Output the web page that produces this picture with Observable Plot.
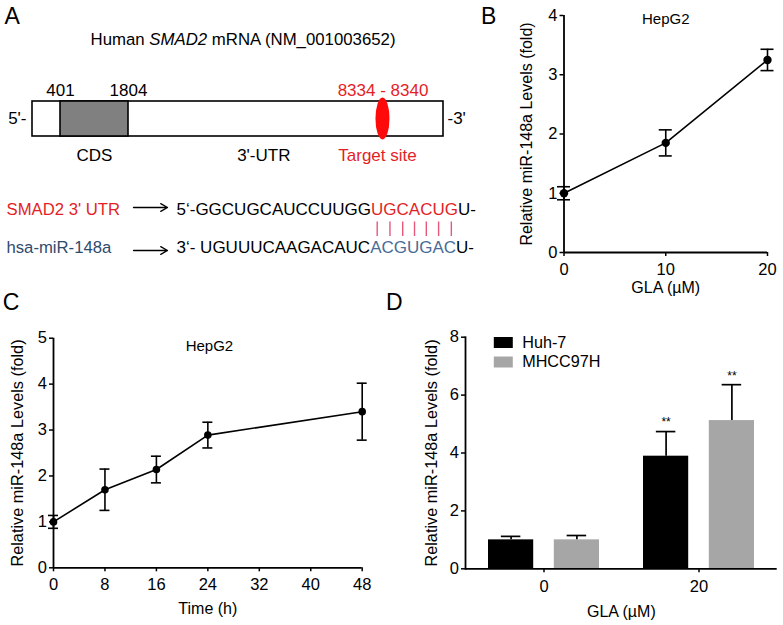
<!DOCTYPE html>
<html><head><meta charset="utf-8">
<script src="https://cdn.jsdelivr.net/npm/d3@7"></script>
<script src="https://cdn.jsdelivr.net/npm/@observablehq/plot@0.6"></script>
<style>
body{margin:0;background:#fff;}
#fig{position:relative;width:783px;height:625px;overflow:hidden;background:#fff;}
#fig > svg{position:absolute;}
</style></head><body><div id="fig"></div>
<script>
// ---------------- DATA ----------------
// Panel A
const titleParts = ["Human ", "SMAD2", " mRNA (NM_001003652)"];
const titleItalic = [false, true, false];
const cds = [401, 1804];
const targetSite = [8334, 8340];
const mrnaEnd = 10000;               // schematic end of transcript
const regionLabels = ["CDS", "3'-UTR", "Target site"];
const alignRows = ["SMAD2 3' UTR", "hsa-miR-148a"];
const alignSeq = [
  ["5\u2018-GGCUGCAUCCUUGG", "UGCACUG", "U-"],
  ["3\u2018- UGUUUCAAGACAUC", "ACGUGAC", "U-"]
];
// Panel B
const glaDose = [0, 10, 20];
const glaMean = [1.0, 1.85, 3.25];
const glaErr  = [0.11, 0.22, 0.18];
const bTicksY = [0, 1, 2, 3, 4];
// Panel C
const timeH = [0, 8, 16, 24, 48];
const timeMean = [1.0, 1.70, 2.14, 2.89, 3.40];
const timeErr  = [0.14, 0.45, 0.29, 0.28, 0.62];
const cTicksX = [0, 8, 16, 24, 32, 40, 48];
const cTicksY = [0, 1, 2, 3, 4, 5];
// Panel D
const cellLines = ["Huh-7", "MHCC97H"];
const doseGroups = ["0", "20"];
const huh7Mean = [1.0, 3.89];
const huh7Err  = [0.12, 0.85];
const mhccMean = [1.0, 5.12];
const mhccErr  = [0.15, 1.24];
const signif   = ["", "**"];
const dTicksY  = [0, 2, 4, 6, 8];

// ---------------- STYLE ----------------
const FONT = '"Liberation Sans", Arial, sans-serif';
const RED = "#e41e26", BLUE = "#2f4b6c", BLUE2 = "#476c95", PINK = "#e4587a";
const GRAY = "#a6a6a6", CDSGRAY = "#808080";
const baseStyle = {fontFamily: FONT, fontSize: "16px", background: "transparent", color: "black", overflow: "visible"};
const fig = document.getElementById("fig");
function place(svg, left, top) { svg.style.left = left + "px"; svg.style.top = top + "px"; fig.appendChild(svg); }
const ctx = document.createElement("canvas").getContext("2d");
function tw(s, size, italic) { ctx.font = `${italic ? "italic " : ""}${size}px "Liberation Sans"`; return ctx.measureText(s).width; }
const letter = (t, dx, dy) => Plot.text([t], {text: d => d, frameAnchor: "top-left", dx, dy, textAnchor: "start", lineAnchor: "top", fontSize: 23});
const fmt = d => String(d);

// ---------------- PANEL A: gene diagram ----------------
{
  const TS = 16.8;
  const widths = titleParts.map((p, i) => tw(p, TS, titleItalic[i]));
  const total = d3.sum(widths);
  let x0 = 243 - total / 2;
  const titleMarks = titleParts.map((p, i) => {
    const m = Plot.text([p], {text: d => d, frameAnchor: "top-left", dx: x0, dy: 33, textAnchor: "start", lineAnchor: "top",
      fontSize: TS, fontStyle: titleItalic[i] ? "italic" : "normal"});
    x0 += widths[i];
    return m;
  });
  // schematic (non-linear) placement of nucleotide positions along the box
  const ntToPx = d3.scaleLinear()
    .domain([1, cds[0], cds[1], targetSite[0], targetSite[1], mrnaEnd])
    .range([32, 60, 128, 375.5, 389.5, 443]);
  const svg = Plot.plot({
    width: 460, height: 170, margin: 0, style: baseStyle,
    x: {type: "linear", transform: ntToPx, domain: [0, 460], range: [0, 460], axis: null},
    y: {domain: [0, 1], range: [136, 101], axis: null},
    marks: [
      letter("A", 4, 7),
      ...titleMarks,
      Plot.rect([[1, mrnaEnd]], {x1: d => d[0], x2: d => d[1], y1: 0, y2: 1, fill: "white", stroke: "black", strokeWidth: 1.6}),
      Plot.rect([cds], {x1: d => d[0], x2: d => d[1], y1: 0, y2: 1, fill: CDSGRAY, stroke: "black", strokeWidth: 1.6}),
      Plot.rect([targetSite], {x1: d => d[0], x2: d => d[1], y1: -0.1, y2: 1.1, rx: 7, ry: 21, fill: "#ff0a0a"}),
      Plot.text(cds, {x: d => d, y: 1, text: d => String(d), dy: -18, lineAnchor: "top", fontSize: 17}),
      Plot.text([targetSite], {x: d => (d[0] + d[1]) / 2, y: 1, text: d => `${d[0]} - ${d[1]}`, dy: -18, lineAnchor: "top", fontSize: 17, fill: RED}),
      Plot.text([regionLabels[0]], {x: (cds[0] + cds[1]) / 2, y: 0, text: d => d, dy: 12, lineAnchor: "top", fontSize: 17}),
      Plot.text([regionLabels[1]], {x: (cds[1] + mrnaEnd) / 2, y: 0, text: d => d, dx: -20, dy: 12, lineAnchor: "top", fontSize: 17}),
      Plot.text([regionLabels[2]], {x: (targetSite[0] + targetSite[1]) / 2, y: 0, text: d => d, dx: -5.5, dy: 12, lineAnchor: "top", fontSize: 17, fill: RED}),
      Plot.text(["5'-"], {x: 1, y: 0.5, text: d => d, textAnchor: "end", dx: -6, fontSize: 17}),
      Plot.text(["-3'"], {x: mrnaEnd, y: 0.5, text: d => d, textAnchor: "start", dx: 4, fontSize: 17})
    ]
  });
  place(svg, 0, 0);
}

// ---------------- PANEL A: alignment ----------------
{
  const SF = 17, LF = 16.7, seqX0 = 176;
  const colors = [["black", RED, "black"], ["black", BLUE2, "black"]];
  const segs = [];
  const pairs = [];
  alignSeq.forEach((parts, r) => {
    let x = seqX0;
    parts.forEach((p, j) => {
      segs.push({row: alignRows[r], text: p, x, color: colors[r][j]});
      if (r === 0 && j === 1) {
        for (let k = 0; k < p.length; k++) pairs.push(x + tw(p.slice(0, k), SF) + tw(p[k], SF) / 2);
      }
      x += tw(p, SF);
    });
  });
  const svg = Plot.plot({
    width: 500, height: 100, margin: 0, style: baseStyle,
    x: {type: "identity", axis: null},
    y: {type: "point", domain: alignRows, range: [38.5, 76.5], padding: 0, axis: null},
    color: {type: "identity"},
    marks: [
      Plot.text(alignRows, {y: d => d, text: d => d, frameAnchor: "left", dx: 6, textAnchor: "start", lineAnchor: "middle", fontSize: LF,
        fill: (d, i) => i === 0 ? RED : BLUE}),
      Plot.arrow([alignRows[0]], {x1: () => 133, x2: () => 167, y1: d => d, y2: d => d, dy: -2, headLength: 9, strokeWidth: 1.3, stroke: "black"}),
      Plot.arrow([alignRows[1]], {x1: () => 133, x2: () => 167, y1: d => d, y2: d => d, dy: 3, headLength: 9, strokeWidth: 1.3, stroke: "black"}),
      Plot.text(segs, {x: "x", y: "row", text: "text", fill: "color", textAnchor: "start", lineAnchor: "middle", fontSize: SF}),
      Plot.ruleX(pairs, {x: d => d, y1: () => alignRows[0], y2: () => alignRows[1], insetTop: 12.5, insetBottom: 11, stroke: PINK, strokeWidth: 1.4})
    ]
  });
  place(svg, 0, 170);
}

// ---------------- PANEL B ----------------
{
  const data = glaDose.map((d, i) => ({x: d, y: glaMean[i], lo: glaMean[i] - glaErr[i], hi: glaMean[i] + glaErr[i]}));
  const svg = Plot.plot({
    width: 323, height: 300, marginLeft: 103.5, marginRight: 16, marginTop: 15, marginBottom: 48, style: baseStyle,
    x: {domain: [0, 20]}, y: {domain: [0, 4]},
    marks: [
      Plot.axisX(glaDose, {tickSize: 4, tickPadding: 7, fontSize: 16.5, strokeWidth: 1.5, label: null, tickFormat: fmt}),
      Plot.axisY(bTicksY, {tickSize: 4, tickPadding: 2.5, fontSize: 16.5, strokeWidth: 1.5, label: null, tickFormat: fmt}),
      Plot.ruleX([0], {strokeWidth: 1.8}),
      Plot.ruleY([0], {strokeWidth: 1.8}),
      Plot.line(data, {x: "x", y: "y", strokeWidth: 1.6}),
      Plot.ruleX(data, {x: "x", y1: "lo", y2: "hi", strokeWidth: 1.6}),
      Plot.ruleY(data, {x1: "x", x2: "x", y: "hi", insetLeft: -6.5, insetRight: -6.5, strokeWidth: 1.6}),
      Plot.ruleY(data, {x1: "x", x2: "x", y: "lo", insetLeft: -6.5, insetRight: -6.5, strokeWidth: 1.6}),
      Plot.dot(data, {x: "x", y: "y", r: 4.2, fill: "black"}),
      letter("B", -83, -8.3),
      Plot.text(["HepG2"], {text: d => d, frameAnchor: "top", lineAnchor: "middle", textAnchor: "middle", dy: 3.3, fontSize: 15}),
      Plot.text(["Relative miR-148a Levels (fold)"], {text: d => d, frameAnchor: "left", textAnchor: "middle", lineAnchor: "middle", rotate: -90, dx: -37, fontSize: 16}),
      Plot.text(["GLA (\u00b5M)"], {text: d => d, frameAnchor: "bottom", textAnchor: "middle", lineAnchor: "middle", dy: 35, fontSize: 16})
    ]
  });
  place(svg, 460, 0);
}

// ---------------- PANEL C ----------------
{
  const data = timeH.map((t, i) => ({x: t, y: timeMean[i], lo: timeMean[i] - timeErr[i], hi: timeMean[i] + timeErr[i]}));
  const svg = Plot.plot({
    width: 400, height: 335, marginLeft: 53, marginRight: 38.3, marginTop: 47.7, marginBottom: 57.7, style: baseStyle,
    x: {domain: [0, 48]}, y: {domain: [0, 5]},
    marks: [
      Plot.axisX(cTicksX, {tickSize: 4, tickPadding: 6, fontSize: 16.5, strokeWidth: 1.5, label: null, tickFormat: fmt}),
      Plot.axisY(cTicksY, {tickSize: 4, tickPadding: 2.5, fontSize: 16.5, strokeWidth: 1.5, label: null, tickFormat: fmt}),
      Plot.ruleX([0], {strokeWidth: 1.8}),
      Plot.ruleY([0], {strokeWidth: 1.8}),
      Plot.line(data, {x: "x", y: "y", strokeWidth: 1.6}),
      Plot.ruleX(data, {x: "x", y1: "lo", y2: "hi", strokeWidth: 1.6}),
      Plot.ruleY(data, {x1: "x", x2: "x", y: "hi", insetLeft: -5, insetRight: -5, strokeWidth: 1.6}),
      Plot.ruleY(data, {x1: "x", x2: "x", y: "lo", insetLeft: -5, insetRight: -5, strokeWidth: 1.6}),
      Plot.dot(data, {x: "x", y: "y", r: 3.8, fill: "black"}),
      letter("C", -50.7, -44.4),
      Plot.text(["HepG2"], {text: d => d, frameAnchor: "top", lineAnchor: "middle", textAnchor: "middle", dx: 1.6, dy: 8.3, fontSize: 15}),
      Plot.text(["Relative miR-148a Levels (fold)"], {text: d => d, frameAnchor: "left", textAnchor: "middle", lineAnchor: "middle", rotate: -90, dx: -36, fontSize: 16.3}),
      Plot.text(["Time (h)"], {text: d => d, frameAnchor: "bottom", textAnchor: "middle", lineAnchor: "middle", dy: 40.7, fontSize: 16})
    ]
  });
  place(svg, 0, 290);
}

// ---------------- PANEL D ----------------
{
  const BW = 111.5, BAR = 45.7, CAP = 20;
  const huh = doseGroups.map((g, i) => ({dose: g, mean: huh7Mean[i], top: huh7Mean[i] + huh7Err[i], sig: signif[i]}));
  const mh  = doseGroups.map((g, i) => ({dose: g, mean: mhccMean[i], top: mhccMean[i] + mhccErr[i], sig: signif[i]}));
  const off = (BW - BAR) / 2;
  const barColors = ["black", GRAY];
  const swatch = {draw(context) { context.rect(-9.5, -5.5, 19, 11); }};
  const legend = cellLines.flatMap((c, i) => [
    Plot.dot([c], {frameAnchor: "top-left", dx: 37.8, dy: 5.3 + i * 19.5, symbol: swatch, r: 5, fill: barColors[i], stroke: "none"}),
    Plot.text([c], {text: d => d, frameAnchor: "top-left", dx: 56.7, dy: 5.3 + i * 19.5, textAnchor: "start", lineAnchor: "middle", fontSize: 16.2})
  ]);
  const svg = Plot.plot({
    width: 398, height: 335, marginLeft: 80, marginRight: 6.3, marginTop: 46.7, marginBottom: 56.7, style: baseStyle,
    x: {type: "band", domain: doseGroups, paddingInner: 0.281, paddingOuter: 0.145},
    y: {domain: [0, 8]},
    marks: [
      Plot.axisX({tickSize: 4, tickPadding: 7.5, fontSize: 16.5, strokeWidth: 1.5, label: null}),
      Plot.axisY(dTicksY, {tickSize: 4, tickPadding: 2.5, fontSize: 16.5, strokeWidth: 1.5, label: null, tickFormat: fmt}),
      Plot.barY(huh, {x: "dose", y: "mean", fill: barColors[0], insetRight: BW - BAR}),
      Plot.barY(mh, {x: "dose", y: "mean", fill: barColors[1], insetLeft: BW - BAR}),
      Plot.ruleX(huh, {x: "dose", y1: "mean", y2: "top", dx: -off, strokeWidth: 1.7}),
      Plot.ruleX(mh, {x: "dose", y1: "mean", y2: "top", dx: off, strokeWidth: 1.7}),
      Plot.tickY(huh, {x: "dose", y: "top", insetLeft: BAR / 2 - CAP / 2, insetRight: BW - BAR / 2 - CAP / 2, strokeWidth: 1.7}),
      Plot.tickY(mh, {x: "dose", y: "top", insetLeft: BW - BAR / 2 - CAP / 2, insetRight: BAR / 2 - CAP / 2, strokeWidth: 1.7}),
      Plot.text(huh, {x: "dose", y: "top", text: "sig", dx: -off, dy: -9, fontSize: 12}),
      Plot.text(mh, {x: "dose", y: "top", text: "sig", dx: off, dy: -9, fontSize: 12}),
      Plot.ruleY([0], {strokeWidth: 1.8}),
      Plot.frame({anchor: "left", strokeWidth: 1.8}),
      ...legend,
      letter("D", -79.5, -43.7),
      Plot.text(["Relative miR-148a Levels (fold)"], {text: d => d, frameAnchor: "left", textAnchor: "middle", lineAnchor: "middle", rotate: -90, dx: -33.3, fontSize: 16.3}),
      Plot.text(["GLA (\u00b5M)"], {text: d => d, frameAnchor: "bottom", textAnchor: "middle", lineAnchor: "middle", dy: 43.4, fontSize: 16})
    ]
  });
  place(svg, 385, 290);
}
</script></body></html>
